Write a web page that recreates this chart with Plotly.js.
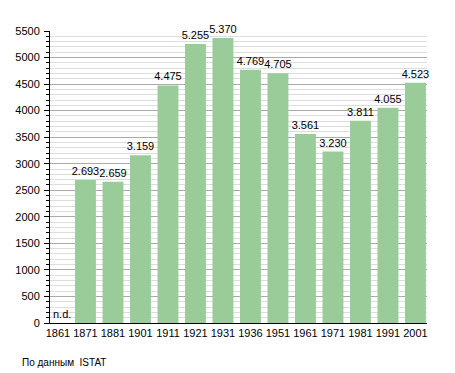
<!DOCTYPE html>
<html>
<head>
<meta charset="utf-8">
<script src="https://cdn.plot.ly/plotly-3.0.1.min.js"></script>
<style>html,body{margin:0;padding:0;background:#fff;}#chart{width:455px;height:373px;}</style>
</head>
<body>
<div id="chart"></div>
<script>
const years = ["1861","1871","1881","1901","1911","1921","1931","1936","1951","1961","1971","1981","1991","2001"];
const population = [null,2693,2659,3159,4475,5255,5370,4769,4705,3561,3230,3811,4055,4523];
const valueLabels = ["","2.693","2.659","3.159","4.475","5.255","5.370","4.769","4.705","3.561","3.230","3.811","4.055","4.523"];
const yTicks = [0,500,1000,1500,2000,2500,3000,3500,4000,4500,5000,5500];
const missingLabel = "n.d.";
const sourceNote = "По данным  ISTAT";

const FONT = "Liberation Sans, Arial, sans-serif";

const trace = {
  type: "bar",
  x: years.map((_, i) => i),
  y: population,
  text: valueLabels,
  textposition: "outside",
  constraintext: "none",
  textfont: {family: FONT, size: 11, color: "#000"},
  cliponaxis: false,
  width: 0.76,
  marker: {color: "#99cc99", line: {width: 0}},
  hoverinfo: "none"
};

const layout = {
  width: 455, height: 373,
  margin: {l: 50, r: 28, t: 31, b: 50},
  paper_bgcolor: "#fff", plot_bgcolor: "#fff",
  showlegend: false,
  font: {family: FONT, size: 11, color: "#000"},
  xaxis: {
    range: [-0.29, 13.42],
    tickmode: "array",
    tickvals: years.map((_, i) => i),
    ticktext: years,
    ticks: "",
    showgrid: false,
    zeroline: false,
    showline: true, linecolor: "#000", linewidth: 1,
    tickfont: {family: FONT, size: 11, color: "#000"},
    fixedrange: true
  },
  yaxis: {
    range: [0, 5500],
    tickmode: "array",
    tickvals: yTicks,
    ticks: "outside", ticklen: 5, tickcolor: "#000", tickwidth: 1,
    ticklabelstandoff: 2,
    showgrid: true, gridcolor: "#aaaaaa", gridwidth: 1,
    minor: {dtick: 100, ticks: "outside", ticklen: 3, tickcolor: "#000", showgrid: true, gridcolor: "#dddddd", gridwidth: 1},
    zeroline: false,
    showline: true, linecolor: "#000", linewidth: 1,
    tickfont: {family: FONT, size: 11, color: "#000"},
    fixedrange: true
  },
  annotations: [
    {x: -0.29, y: 0, xref: "x", yref: "y", xanchor: "left", yanchor: "bottom", xshift: 1, yshift: 1,
     text: missingLabel, showarrow: false, font: {family: FONT, size: 11, color: "#000"}},
    {xref: "paper", yref: "paper", showarrow: false, text: sourceNote,
     x: (20 - 50) / (455 - 78), y: -(362 - 323) / (373 - 81),
     xanchor: "left", yanchor: "middle",
     font: {family: FONT, size: 10, color: "#000"}}
  ]
};

Plotly.newPlot("chart", [trace], layout, {staticPlot: true, displayModeBar: false});
</script>
</body>
</html>
